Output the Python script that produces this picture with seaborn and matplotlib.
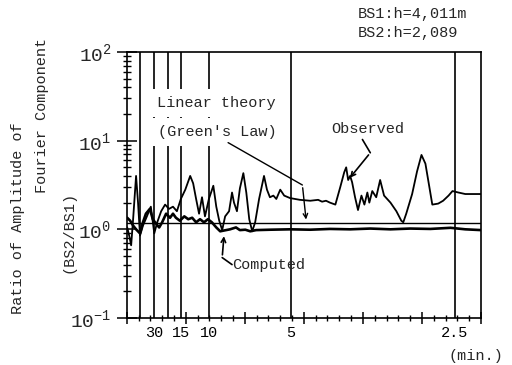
import matplotlib
matplotlib.use("Agg")
import matplotlib.pyplot as plt
import numpy as np
import pandas as pd
import seaborn as sns
from matplotlib.ticker import MultipleLocator, NullFormatter, FixedLocator
from matplotlib.lines import Line2D

# ---------------- data ----------------
# frequency in mHz (linear axis), ratio BS2/BS1 (log axis)
obs_freq = [0.01, 0.05, 0.09, 0.13, 0.19, 0.23, 0.27, 0.33, 0.41, 0.49, 0.56, 0.62,
            0.70, 0.78, 0.86, 0.94, 1.02, 1.10, 1.19, 1.29, 1.35, 1.41, 1.47, 1.53,
            1.59, 1.67, 1.76, 1.82, 1.88, 1.94, 2.00, 2.08, 2.14, 2.18, 2.24, 2.30,
            2.37, 2.43, 2.49, 2.55, 2.61, 2.69, 2.79, 2.85, 2.91, 2.98, 3.04, 3.12,
            3.20, 3.32, 3.52, 3.73, 3.89, 3.97, 4.05, 4.13, 4.24, 4.34, 4.42, 4.46,
            4.50, 4.54, 4.58, 4.64, 4.70, 4.77, 4.83, 4.89, 4.93, 4.99, 5.07, 5.15,
            5.23, 5.36, 5.48, 5.58, 5.62, 5.68, 5.80, 5.90, 5.99, 6.07, 6.15, 6.21,
            6.33, 6.43, 6.54, 6.62, 6.74, 6.88, 7.08, 7.20]
obs_ratio = [1.05, 0.85, 0.66, 1.3, 4.0, 2.0, 0.85, 1.1, 1.4, 1.8, 0.9, 1.2,
             1.6, 1.9, 1.7, 1.8, 1.6, 2.2, 2.8, 4.0, 3.3, 2.2, 1.5, 2.3,
             1.4, 2.2, 3.1, 1.8, 1.25, 0.98, 1.4, 1.6, 2.6, 2.0, 1.6, 2.9,
             4.3, 2.6, 1.3, 0.95, 1.2, 2.2, 4.0, 2.8, 2.3, 2.4, 2.2, 2.8,
             2.4, 2.25, 2.15, 2.1, 2.15, 2.05, 2.1, 2.0, 1.9, 3.0, 4.4, 5.0,
             3.6, 4.0, 3.4, 2.3, 1.65, 2.4, 1.9, 2.6, 2.0, 2.7, 2.3, 3.6,
             2.4, 2.0, 1.6, 1.25, 1.2, 1.5, 2.5, 4.5, 6.9, 5.5, 3.0, 1.9,
             1.95, 2.1, 2.4, 2.7, 2.6, 2.5, 2.5, 2.5]

comp_freq = [0.01, 0.07, 0.13, 0.19, 0.27, 0.33, 0.39, 0.47, 0.53, 0.60, 0.66, 0.72,
             0.80, 0.88, 0.94, 1.00, 1.08, 1.17, 1.25, 1.33, 1.41, 1.49, 1.57, 1.65,
             1.73, 1.82, 1.90, 1.98, 2.10, 2.22, 2.30, 2.41, 2.51, 2.63, 2.92, 3.32,
             3.73, 4.13, 4.54, 4.95, 5.36, 5.76, 6.17, 6.58, 6.88, 7.20]
comp_ratio = [1.35, 1.25, 1.1, 1.0, 0.9, 1.2, 1.5, 1.7, 1.3, 1.15, 1.05, 1.2,
              1.5, 1.35, 1.5, 1.35, 1.25, 1.4, 1.3, 1.35, 1.2, 1.3, 1.2, 1.3,
              1.2, 1.05, 0.95, 0.97, 1.0, 1.05, 0.98, 0.99, 0.95, 0.98, 0.99, 1.0,
              0.99, 1.01, 1.0, 1.02, 1.0, 1.02, 1.01, 1.04, 1.0, 0.98]

depth_bs1 = 4011.0
depth_bs2 = 2089.0

period_lines_min = [60, 30, 20, 15, 10, 5, 2.5]
period_label_min = [30, 15, 10, 5, 2.5]
period_label_txt = ["30", "15", "10", "5", "2.5"]

ytick_vals = [0.1, 1, 10, 100]
ytick_txt = ["$10^{-1}$", "$10^{0}$", "$10^{1}$", "$10^{2}$"]


def period_to_mhz(t_min):
    return 1000.0 / (60.0 * t_min)


# ---------------- style ----------------
sns.set_theme(style="white")
plt.rcParams["font.family"] = ["Liberation Mono", "DejaVu Sans Mono"]
plt.rcParams["mathtext.fontset"] = "custom"
plt.rcParams["mathtext.rm"] = "Liberation Mono"
plt.rcParams["mathtext.it"] = "Liberation Mono"
plt.rcParams["mathtext.default"] = "rm"

fig = plt.figure(figsize=(5.12, 3.65), dpi=100)
ax = fig.add_axes([0.2475, 0.1288, 0.692, 0.7288])

df_obs = pd.DataFrame({"freq": obs_freq, "ratio": obs_ratio})
df_comp = pd.DataFrame({"freq": comp_freq, "ratio": comp_ratio})

for t in period_lines_min:
    ax.axvline(period_to_mhz(t), color="black", lw=1.2, zorder=1)

green_ratio = (depth_bs1 / depth_bs2) ** 0.25
ax.axhline(green_ratio, color="black", lw=1.0, zorder=2)

sns.lineplot(data=df_obs, x="freq", y="ratio", ax=ax, color="black", lw=1.3,
             estimator=None, sort=False, zorder=3)
sns.lineplot(data=df_comp, x="freq", y="ratio", ax=ax, color="black", lw=1.9,
             estimator=None, sort=False, zorder=3)

ax.set_yscale("log")
ax.set_ylim(0.1, 100)
ax.set_xlim(0, 7.2)
ax.set_xlabel("")
ax.set_ylabel("")

for s in ax.spines.values():
    s.set_color("black")
    s.set_linewidth(1.2)

# x ticks (marks only)
ax.xaxis.set_major_locator(MultipleLocator(1.2))
ax.xaxis.set_minor_locator(MultipleLocator(0.24))
ax.xaxis.set_major_formatter(NullFormatter())
ax.tick_params(axis="x", which="major", direction="inout", length=9, width=1.1,
               color="black", bottom=True)
ax.tick_params(axis="x", which="minor", direction="inout", length=5, width=1.0,
               color="black", bottom=True)

# period labels
sec = ax.secondary_xaxis("bottom")
sec.set_xticks([period_to_mhz(t) for t in period_label_min], period_label_txt)
sec.tick_params(length=0, pad=6, labelsize=11, colors="black")
sec.spines["bottom"].set_visible(False)

# y ticks
ax.yaxis.set_major_locator(FixedLocator(ytick_vals))
ax.set_yticklabels(ytick_txt)
minor_vals = [m * d for d in [0.1, 1, 10] for m in range(2, 10)]
ax.yaxis.set_minor_locator(FixedLocator(minor_vals))
ax.yaxis.set_minor_formatter(NullFormatter())
ax.tick_params(axis="y", which="major", direction="inout", length=14, width=1.1,
               color="black", left=True, labelsize=14, pad=4)
ax.tick_params(axis="y", which="minor", direction="inout", length=6, width=1.0,
               color="black", left=True)

# ---------------- texts ----------------
fs = 11
box = dict(boxstyle="square,pad=0.45", fc="white", ec="none")
ax.text(1.83, 26.4, "Linear theory", fontsize=fs, ha="center", va="center",
        bbox=box, zorder=5)
ax.text(1.85, 12.6, "(Green's Law)", fontsize=fs, ha="center", va="center",
        bbox=box, zorder=5)
ax.text(4.89, 13.7, "Observed", fontsize=fs, ha="center", va="center", zorder=5)
ax.text(2.14, 0.40, "Computed", fontsize=fs, ha="left", va="center", zorder=5)

# pointers
ax.add_line(Line2D([2.06, 3.57], [9.5, 3.16], color="black", lw=1.0, zorder=5))
ax.annotate("", xy=(3.65, 1.2), xytext=(3.57, 3.16),
            arrowprops=dict(arrowstyle="->", color="black", lw=1.0,
                            mutation_scale=8), zorder=5)
ax.add_line(Line2D([4.79, 4.95], [10.3, 7.3], color="black", lw=1.2, zorder=5))
ax.annotate("", xy=(4.50, 3.6), xytext=(4.95, 7.3),
            arrowprops=dict(arrowstyle="->", color="black", lw=1.2,
                            mutation_scale=8), zorder=5)
ax.add_line(Line2D([2.14, 1.94], [0.40, 0.48], color="black", lw=1.2, zorder=5))
ax.annotate("", xy=(1.98, 0.9), xytext=(1.94, 0.48),
            arrowprops=dict(arrowstyle="->", color="black", lw=1.2,
                            mutation_scale=8), zorder=5)

fig.text(0.699, 0.962, "BS1:h=4,011m", fontsize=fs, ha="left", va="center")
fig.text(0.699, 0.910, "BS2:h=2,089", fontsize=fs, ha="left", va="center")
fig.text(0.93, 0.025, "(min.)", fontsize=fs, ha="center", va="center")

fig.text(0.035, 0.403, "Ratio of Amplitude of", fontsize=fs, rotation=90,
         ha="center", va="center")
fig.text(0.082, 0.685, "Fourier Component", fontsize=fs, rotation=90,
         ha="center", va="center")
fig.text(0.133, 0.364, "(BS2/BS1)", fontsize=fs, rotation=90,
         ha="center", va="center")

fig.savefig("out.png", dpi=100, facecolor="white")
